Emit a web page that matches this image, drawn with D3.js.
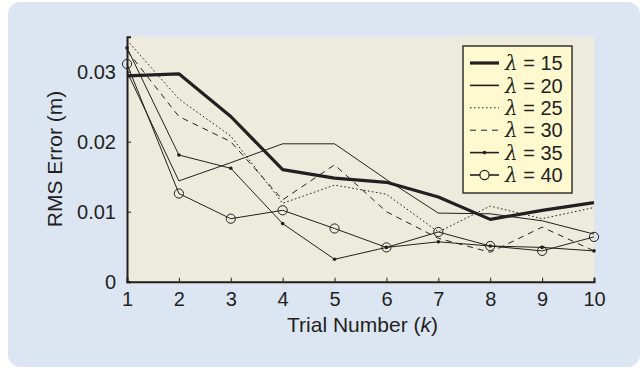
<!DOCTYPE html>
<html>
<head>
<meta charset="utf-8">
<script src="https://cdn.jsdelivr.net/npm/d3@7"></script>
<style>
  html, body { margin: 0; padding: 0; background: #ffffff; }
  svg { display: block; }
  text { font-family: "Liberation Sans", Arial, Helvetica, sans-serif; fill: #231f20; }
</style>
</head>
<body>
<svg id="chart" width="642" height="369"></svg>
<script>
// Trial numbers on the x axis
const trials = [1, 2, 3, 4, 5, 6, 7, 8, 9, 10];

// RMS error (m) per trial for each lambda setting
const lambda15 = [0.0294, 0.0297, 0.0236, 0.0160, 0.0148, 0.0142, 0.0121, 0.0089, 0.0102, 0.0113];
const lambda20 = [0.0300, 0.0144, 0.0170, 0.0197, 0.0197, 0.0146, 0.0098, 0.0097, 0.0087, 0.0068];
const lambda25 = [0.0345, 0.0261, 0.0208, 0.0112, 0.0138, 0.0125, 0.0071, 0.0108, 0.0090, 0.0106];
const lambda30 = [0.0330, 0.0236, 0.0200, 0.0117, 0.0167, 0.0100, 0.0062, 0.0042, 0.0078, 0.0044];
const lambda35 = [0.0334, 0.0181, 0.0162, 0.0083, 0.0032, 0.0049, 0.0057, 0.0051, 0.0049, 0.0044];
const lambda40 = [0.0311, 0.0126, 0.0090, 0.0102, 0.0076, 0.0049, 0.0071, 0.0051, 0.0044, 0.0064];

const lambdaLabels = ["15", "20", "25", "30", "35", "40"];
const yTicks = [0, 0.01, 0.02, 0.03];
const yTickLabels = ["0", "0.01", "0.02", "0.03"];

const series = [
  { name: lambdaLabels[0], values: lambda15, width: 3.2, dash: null, marker: "none" },
  { name: lambdaLabels[1], values: lambda20, width: 1, dash: null, marker: "none" },
  { name: lambdaLabels[2], values: lambda25, width: 1, dash: "1.6,2.4", marker: "none" },
  { name: lambdaLabels[3], values: lambda30, width: 1, dash: "6,5", marker: "none" },
  { name: lambdaLabels[4], values: lambda35, width: 1, dash: null, marker: "dot" },
  { name: lambdaLabels[5], values: lambda40, width: 1, dash: null, marker: "circle" }
];

const ink = "#231f20";
const svg = d3.select("#chart");

// Card background
svg.append("rect")
  .attr("x", 8).attr("y", 2).attr("width", 632).attr("height", 365)
  .attr("rx", 12).attr("ry", 12)
  .attr("fill", "#dce6f3");

const margin = { left: 127, right: 48, top: 36.7, bottom: 87.3 };
const width = 642 - margin.left - margin.right;
const height = 369 - margin.top - margin.bottom;

const x = d3.scaleLinear().domain([1, 10]).range([margin.left, margin.left + width]);
const y = d3.scaleLinear().domain([0, 0.035]).range([margin.top + height, margin.top]);

// Plot area
svg.append("rect")
  .attr("x", x(1)).attr("y", y(0.035))
  .attr("width", x(10) - x(1)).attr("height", y(0) - y(0.035))
  .attr("fill", "#ecebdc");

// Series lines
const line = d3.line().x((d, i) => x(trials[i])).y(d => y(d));
const g = svg.append("g");
series.forEach(s => {
  g.append("path")
    .datum(s.values)
    .attr("d", line)
    .attr("fill", "none")
    .attr("stroke", ink)
    .attr("stroke-width", s.width)
    .attr("stroke-linejoin", "round")
    .attr("stroke-dasharray", s.dash);
  if (s.marker === "dot") {
    g.selectAll(null).data(s.values).enter().append("circle")
      .attr("cx", (d, i) => x(trials[i])).attr("cy", d => y(d))
      .attr("r", 1.8).attr("fill", ink);
  } else if (s.marker === "circle") {
    g.selectAll(null).data(s.values).enter().append("circle")
      .attr("cx", (d, i) => x(trials[i])).attr("cy", d => y(d))
      .attr("r", 4.6).attr("fill", "none").attr("stroke", ink).attr("stroke-width", 1);
  }
});

// Axes with inward ticks
const xAxis = d3.axisBottom(x).tickValues(trials).tickSize(-4).tickPadding(10).tickFormat(d3.format("d"));
const yAxis = d3.axisLeft(y).tickValues(yTicks).tickSize(-4).tickPadding(11)
  .tickFormat((d, i) => yTickLabels[i]);

const gx = svg.append("g").attr("transform", `translate(0,${y(0)})`).call(xAxis);
const gy = svg.append("g").attr("transform", `translate(${x(1)},0)`).call(yAxis);

[gx, gy].forEach(ax => {
  ax.select(".domain").attr("stroke", ink).attr("stroke-width", 2);
  ax.selectAll(".tick line").attr("stroke", ink).attr("stroke-width", 1);
  ax.selectAll(".tick text")
    .attr("fill", ink)
    .style("font-size", "20px")
    .style("font-family", "'Liberation Sans', Arial, sans-serif");
});
gx.selectAll(".tick text").attr("dy", "0.75em").attr("y", 9);
gy.selectAll(".tick text").attr("dy", "0.36em");

// Axis titles
const xTitle = svg.append("text")
  .attr("x", (x(1) + x(10)) / 2 + 2).attr("y", 331.5)
  .attr("text-anchor", "middle")
  .style("font-size", "21px");
xTitle.append("tspan").text("Trial Number (");
xTitle.append("tspan").style("font-style", "italic").text("k");
xTitle.append("tspan").text(")");

svg.append("text")
  .attr("transform", `translate(62,${159}) rotate(-90)`)
  .attr("text-anchor", "middle")
  .style("font-size", "21px")
  .text("RMS Error (m)");

// Legend
const lg = svg.append("g");
lg.append("rect")
  .attr("x", 463).attr("y", 46).attr("width", 109).attr("height", 147)
  .attr("fill", "#fff9d0").attr("stroke", "#333333").attr("stroke-width", 1.5);

series.forEach((s, i) => {
  const cy = 63 + i * 22.4;
  lg.append("line")
    .attr("x1", 470).attr("x2", 499).attr("y1", cy).attr("y2", cy)
    .attr("stroke", ink)
    .attr("stroke-width", i === 0 ? 3.2 : (s.dash ? 1 : 1.6))
    .attr("stroke-dasharray", s.dash);
  if (s.marker === "dot") {
    lg.append("circle").attr("cx", 484.5).attr("cy", cy).attr("r", 1.8).attr("fill", ink);
  } else if (s.marker === "circle") {
    lg.append("circle").attr("cx", 484.5).attr("cy", cy).attr("r", 4.6)
      .attr("fill", "#fff9d0").attr("stroke", ink).attr("stroke-width", 1.2);
  }
  const t = lg.append("text")
    .attr("x", 505).attr("y", cy).attr("dy", "0.36em")
    .style("font-size", "20px");
  t.append("tspan").style("font-style", "italic").style("font-family", "'DejaVu Serif', serif").text("λ");
  t.append("tspan").text(" = " + s.name);
});
</script>
</body>
</html>
